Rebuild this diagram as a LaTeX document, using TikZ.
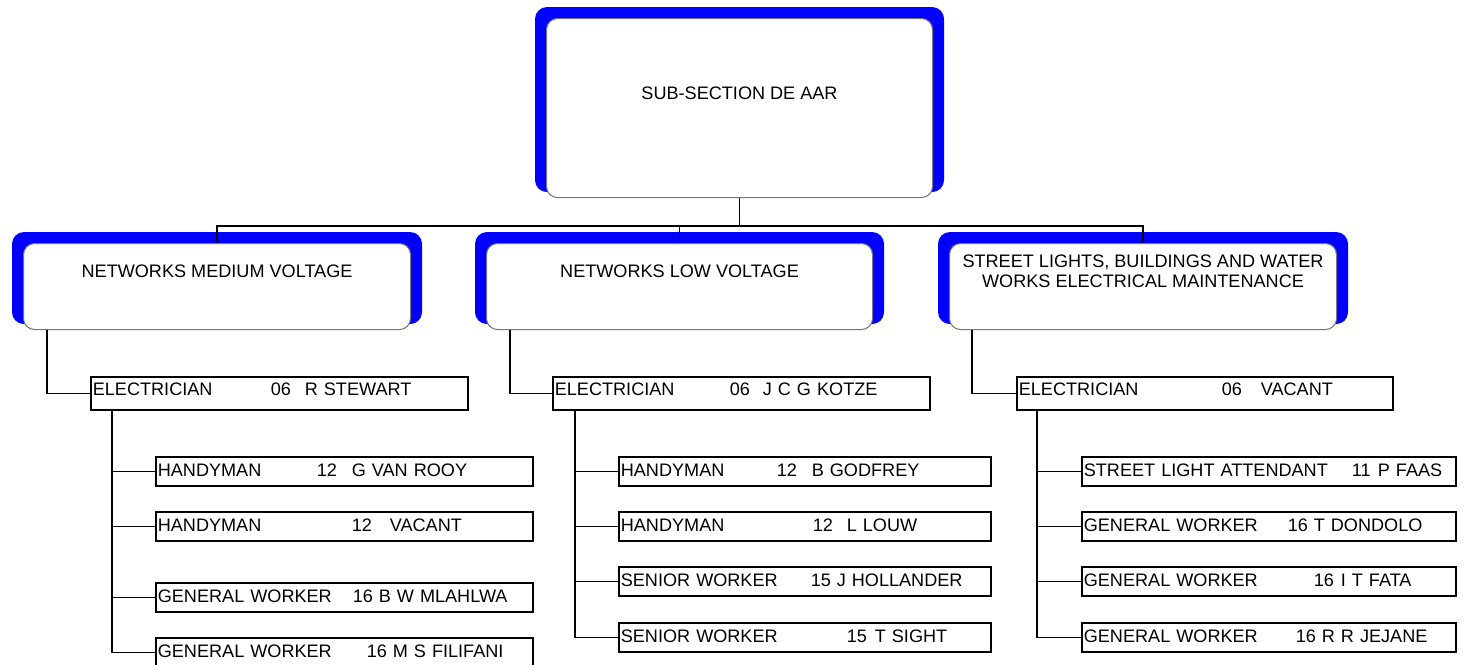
\documentclass[tikz,border=0pt]{standalone}
\usepackage{fontspec}
\setmainfont{Liberation Sans}
\usetikzlibrary{backgrounds,calc}
\definecolor{orgblue}{RGB}{0,0,255}
\definecolor{orggray}{RGB}{120,120,120}
\newlength\px
\setlength\px{0.02cm}
% title, gap to number, number, gap to name, name
\newcommand\post[5]{\makebox[#2\px][l]{#1}\makebox[#4\px][l]{#3}#5}

\begin{document}
\begin{tikzpicture}[x=1\px, y=-1\px,
  hbox/.style={rectangle, rounded corners=11\px, draw=orggray, line width=0.6pt,
               fill=white, anchor=north west, minimum width=387\px,
               minimum height=86\px, inner sep=0pt},
  hlbl/.style={anchor=center, yshift=-28\px, align=center,
               font=\fontsize{10.3}{11.4}\selectfont},
  pbox/.style={rectangle, draw, line width=0.95pt, anchor=north west,
               minimum height=29\px, inner xsep=2\px, inner ysep=0pt,
               text width=373\px, align=left, text height=7.4pt, text depth=3\px,
               font=\fontsize{10.3}{12}\selectfont},
  ebox/.style={pbox, minimum height=33\px, text depth=8\px},
  link/.style={line width=0.85pt}
]
\useasboundingbox (0,0) rectangle (1464,664);

% Top box
\node[hbox, minimum width=386\px, minimum height=179\px,
      label={[hlbl, yshift=-47\px]north:SUB-SECTION DE AAR}] (top) at (546,18) {};

% Section boxes
\node[hbox, label={[hlbl]north:NETWORKS MEDIUM VOLTAGE}] (nmv) at (23,243) {};
\node[hbox, minimum width=386\px,
      label={[hlbl]north:NETWORKS LOW VOLTAGE}] (nlv) at (486,243) {};
\node[hbox, label={[hlbl]north:STREET LIGHTS, BUILDINGS AND WATER\\WORKS ELECTRICAL MAINTENANCE}] (sl) at (949,243) {};

% Blue frames
\begin{scope}[on background layer]
\foreach \b in {top,nmv,nlv,sl}
  \fill[orgblue, rounded corners=12\px] ([shift={(-11,-11)}]\b.north west)
    rectangle ([shift={(11,-6)}]\b.south east);
\end{scope}

% Electricians
\node[ebox] (e1) at (90,376) {\post{ELECTRICIAN}{178}{06}{34}{R STEWART}};
\node[ebox] (e2) at (552,376) {\post{ELECTRICIAN}{175}{06}{33}{J C G KOTZE}};
\node[ebox, text width=372\px] (e3) at (1016,376) {\post{ELECTRICIAN}{203}{06}{39}{VACANT}};

% Medium voltage staff
\node[pbox] (s11) at (155,456) {\post{HANDYMAN}{159}{12}{35}{G VAN ROOY}};
\node[pbox] (s12) at (155,511) {\post{HANDYMAN}{194}{12}{38}{VACANT}};
\node[pbox] (s13) at (155,582) {\post{GENERAL WORKER}{195}{16}{26}{B W MLAHLWA}};
\node[pbox] (s14) at (155,637) {\post{GENERAL WORKER}{209}{16}{26}{M S FILIFANI}};

% Low voltage staff
\node[pbox, text width=368\px] (s21) at (618,456) {\post{HANDYMAN}{156}{12}{35}{B GODFREY}};
\node[pbox, text width=368\px] (s22) at (618,511) {\post{HANDYMAN}{192}{12}{34}{L LOUW}};
\node[pbox, text width=368\px] (s23) at (618,566) {\post{SENIOR WORKER}{190}{15}{26}{J HOLLANDER}};
\node[pbox, text width=368\px] (s24) at (618,622) {\post{SENIOR WORKER}{226}{15}{28}{T SIGHT}};

% Street lights staff
\node[pbox, text width=370\px] (s31) at (1081,456) {\post{STREET LIGHT ATTENDANT}{268}{11}{26}{P FAAS}};
\node[pbox, text width=370\px] (s32) at (1081,511) {\post{GENERAL WORKER}{204}{16}{26}{T DONDOLO}};
\node[pbox, text width=370\px] (s33) at (1081,566) {\post{GENERAL WORKER}{230}{16}{27}{I T FATA}};
\node[pbox, text width=370\px] (s34) at (1081,622) {\post{GENERAL WORKER}{212}{16}{26}{R R JEJANE}};

% Links
\coordinate (bus) at ($(top.south)+(0,28)$);
\draw[link] (top.south) -- (bus);
\draw[link] (nmv.north) |- (bus) -| (sl.north);
\draw[link] (nlv.north) -- (nlv.north |- bus);

\draw[link] ([xshift=24\px]nmv.south west) |- (e1.west);
\draw[link] ([xshift=24\px]nlv.south west) |- (e2.west);
\draw[link] ([xshift=23\px]sl.south west) |- (e3.west);

\foreach \s in {s11,s12,s13,s14}
  \draw[link] ([xshift=22\px]e1.south west) |- (\s.west);
\foreach \s in {s21,s22,s23,s24}
  \draw[link] ([xshift=23\px]e2.south west) |- (\s.west);
\foreach \s in {s31,s32,s33,s34}
  \draw[link] ([xshift=21\px]e3.south west) |- (\s.west);
\end{tikzpicture}
\end{document}
